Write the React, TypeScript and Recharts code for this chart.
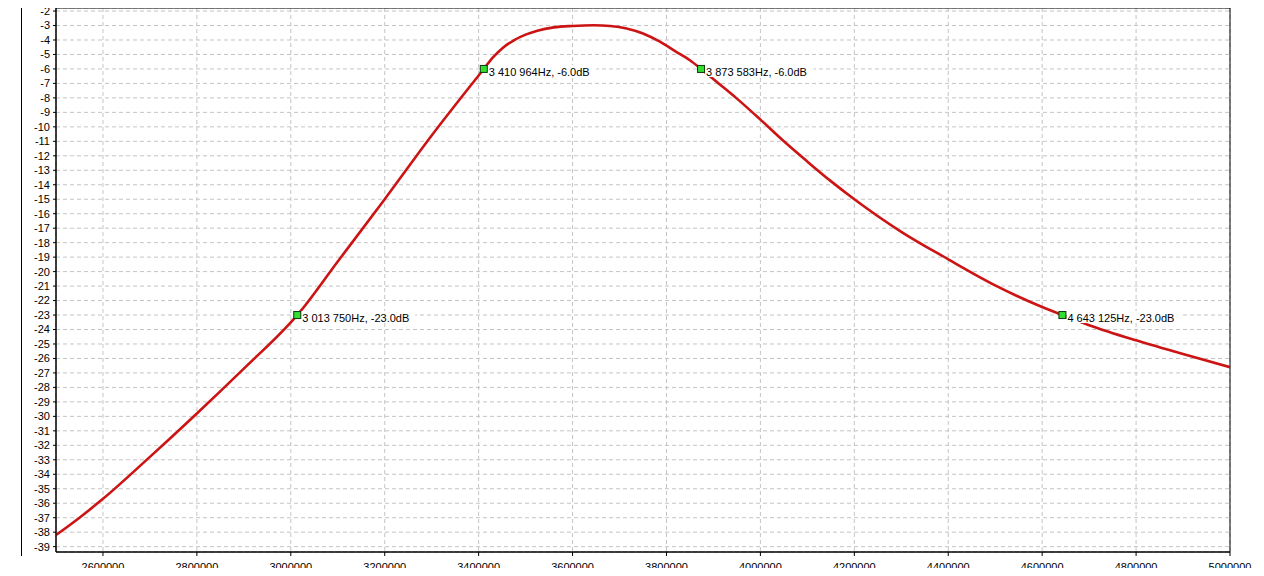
import { ComposedChart, Line, Scatter, XAxis, YAxis, CartesianGrid, ReferenceArea } from "recharts"

// frequency response (Hz / dB)
const freqHz = [
    2500000, 2550000, 2600000, 2700000, 2800000, 2900000, 3000000, 3013750, 3100000, 3200000,
    3300000, 3400000, 3410964, 3430000, 3450000, 3475000, 3500000, 3525000, 3560000, 3600000,
    3645000, 3680000, 3715000, 3750000, 3785000, 3820000, 3850000, 3873583, 3911000, 3950000,
    4000000, 4050000, 4100000, 4150000, 4200000, 4300000, 4400000, 4500000, 4600000, 4643125,
    4700000, 4800000, 4900000, 5000000,
]
const levelDb = [
    -38.2, -37.0, -35.7, -32.8, -29.8, -26.7, -23.5, -23.0, -19.3, -15.0,
    -10.6, -6.45, -6.0, -5.22, -4.58, -4.02, -3.63, -3.36, -3.13, -3.03,
    -2.98, -3.03, -3.2, -3.55, -4.1, -4.8, -5.4, -6.0, -7.0, -8.05,
    -9.5, -11.0, -12.4, -13.75, -15.0, -17.25, -19.15, -20.95, -22.45, -23.0,
    -23.7, -24.75, -25.7, -26.6,
]

// measurement markers
const markerHz = [3013750, 3410964, 3873583, 4643125]
const markerDb = [-23.0, -6.0, -6.0, -23.0]
const markerLabels = ["3 013 750Hz, -23.0dB", "3 410 964Hz, -6.0dB", "3 873 583Hz, -6.0dB", "4 643 125Hz, -23.0dB"]

const xTicks = [2600000, 2800000, 3000000, 3200000, 3400000, 3600000, 3800000, 4000000, 4200000, 4400000, 4600000, 4800000, 5000000]
const yTicks = Array.from({ length: 38 }, (_, i) => -2 - i)

const X_DOMAIN: [number, number] = [2500000, 5000000]
const Y_DOMAIN: [number, number] = [-39.37, -1.79]

const curve = freqHz.map((f, i) => ({ f, db: levelDb[i] }))
const markers = markerHz.map((f, i) => ({ f, db: markerDb[i], label: markerLabels[i] }))

const font = "'Liberation Sans', Arial, sans-serif"

function Marker(props: any) {
    const { cx, cy, payload } = props
    if (cx == null || cy == null) return null
    const w = payload.label.length * 5.6 + 2
    return (
        <g>
            <rect x={cx + 4} y={cy - 4} width={w} height={12} fill="#fff" />
            <rect x={cx - 3.5} y={cy - 3.5} width={7} height={7} fill="#33dd33" stroke="#0a3a0a" strokeWidth={1} />
            <text x={cx + 5} y={cy + 7} fontSize={11} fontFamily={font} fill="#000">
                {payload.label}
            </text>
        </g>
    )
}

export default function App() {
    return (
        <div style={{ margin: -8, position: "relative", width: 1264, height: 576, background: "#fff" }}>
            <div style={{ position: "absolute", left: 21, top: 3, width: 1, height: 553, background: "#000" }} />
            <ComposedChart
                width={1264}
                height={576}
                data={curve}
                margin={{ top: 8, right: 34, bottom: 0, left: 0 }}
                style={{ fontFamily: font }}
            >
                <CartesianGrid stroke="#c4c4c4" strokeDasharray="4 3" />
                <XAxis
                    dataKey="f"
                    type="number"
                    domain={X_DOMAIN}
                    ticks={xTicks}
                    interval={0}
                    allowDataOverflow
                    height={24}
                    stroke="#000"
                    tickSize={4}
                    tickMargin={7}
                    tick={{ fill: "#000", fontSize: 11, fontFamily: font }}
                />
                <YAxis
                    type="number"
                    domain={Y_DOMAIN}
                    ticks={yTicks}
                    interval={0}
                    allowDataOverflow
                    width={56}
                    stroke="#000"
                    tickSize={3}
                    tickMargin={3}
                    tick={{ fill: "#000", fontSize: 11, fontFamily: font }}
                />
                <ReferenceArea x1={X_DOMAIN[0]} x2={X_DOMAIN[1]} y1={Y_DOMAIN[0]} y2={Y_DOMAIN[1]} fill="none" stroke="#000" strokeWidth={1} />
                <Line
                    dataKey="db"
                    type="monotone"
                    stroke="#cc1414"
                    strokeWidth={2.6}
                    dot={false}
                    activeDot={false}
                    isAnimationActive={false}
                />
                <Scatter data={markers} dataKey="db" shape={Marker} isAnimationActive={false} />
            </ComposedChart>
        </div>
    )
}
